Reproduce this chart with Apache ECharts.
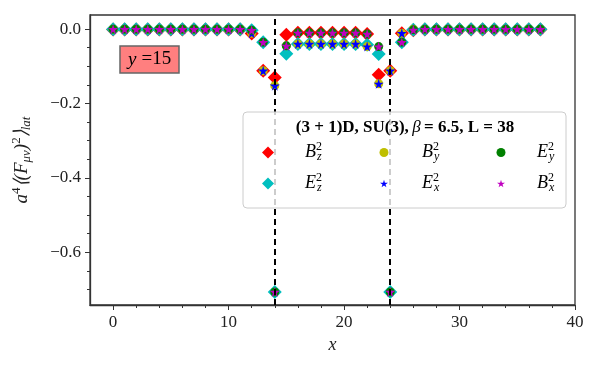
<!DOCTYPE html>
<html>
<head>
<meta charset="utf-8">
<script src="https://cdn.jsdelivr.net/npm/echarts@6/dist/echarts.min.js"></script>
<style>
html, body { margin: 0; padding: 0; background: #fff; }
#chart { width: 600px; height: 370px; }
</style>
</head>
<body>
<div id="chart"></div>
<script>
// lattice sites along x
var xs = [0,1,2,3,4,5,6,7,8,9,10,11,12,13,14,15,16,17,18,19,20,21,22,23,24,25,26,27,28,29,30,31,32,33,34,35,36,37];

// field components
var Bz = [-0.001,-0.001,-0.001,-0.001,-0.001,-0.001,-0.001,-0.001,-0.001,-0.001,-0.001,-0.001,
          -0.012,-0.112,-0.130,-0.015,-0.010,-0.010,-0.010,-0.010,-0.010,-0.010,-0.013,-0.123,-0.112,-0.011,
          -0.003,-0.001,-0.001,-0.001,-0.001,-0.001,-0.001,-0.001,-0.001,-0.001,-0.001,-0.001];
var Ez = [0,0,0,0,0,0,0,0,0,0,0,0,
          -0.003,-0.035,-0.707,-0.066,-0.040,-0.040,-0.040,-0.040,-0.040,-0.040,-0.042,-0.067,-0.707,-0.035,
          -0.002,0,0,0,0,0,0,0,0,0,0,0];
var By = [0,0,0,0,0,0,0,0,0,0,0,0,
          -0.011,-0.112,-0.152,-0.045,-0.040,-0.040,-0.040,-0.040,-0.040,-0.040,-0.047,-0.147,-0.112,-0.011,
          0,0,0,0,0,0,0,0,0,0,0,0];
var Ex = [0,0,0,0,0,0,0,0,0,0,0,0,
          -0.011,-0.112,-0.152,-0.045,-0.040,-0.040,-0.040,-0.040,-0.040,-0.040,-0.047,-0.147,-0.112,-0.011,
          0,0,0,0,0,0,0,0,0,0,0,0];
var Ey = [0,0,0,0,0,0,0,0,0,0,0,0,
          -0.003,-0.035,-0.707,-0.045,-0.010,-0.010,-0.010,-0.010,-0.010,-0.010,-0.013,-0.047,-0.707,-0.035,
          -0.002,0,0,0,0,0,0,0,0,0,0,0];
var Bx = [0,0,0,0,0,0,0,0,0,0,0,0,
          -0.003,-0.035,-0.707,-0.045,-0.010,-0.010,-0.010,-0.010,-0.010,-0.010,-0.013,-0.047,-0.707,-0.035,
          -0.002,0,0,0,0,0,0,0,0,0,0,0];

// source positions (dashed lines)
var sources = [14, 24];

// ticks
var xMajor = [0, 10, 20, 30, 40];
var xMinor = [2, 4, 6, 8, 12, 14, 16, 18, 22, 24, 26, 28, 32, 34, 36, 38];
var yMajor = [0, -0.2, -0.4, -0.6];
var yMinor = [-0.05, -0.1, -0.15, -0.25, -0.3, -0.35, -0.45, -0.5, -0.55, -0.65, -0.7];

var FONT = 'Liberation Serif';
var STAR = 'path://M50,0L61,35L98,35L68,57L79,91L50,70L21,91L32,57L2,35L39,35Z';

function pts(arr) {
    return xs.map(function (x, i) { return [x, arr[i]]; });
}

var scriptRich = {
    v: { fontFamily: FONT, fontStyle: 'italic', fontSize: 18, color: '#000' },
    sp: { fontFamily: FONT, fontSize: 12, color: '#000', padding: [0, 0, 11, 0], width: 1 },
    sb: { fontFamily: FONT, fontStyle: 'italic', fontSize: 12, color: '#000', padding: [9, 0, 0, 0] }
};

function legendLabel(name) {
    return '{v|' + name[0] + '}{sp|2}{sb|' + name[1] + '}';
}

var legendItems = [
    { name: 'Bz', cx: 268, cy: 155, size: 12, lx: 305 },
    { name: 'By', cx: 384, cy: 155, size: 9, lx: 422 },
    { name: 'Ey', cx: 501, cy: 155, size: 9, lx: 537 },
    { name: 'Ez', cx: 268, cy: 186, size: 12, lx: 305 },
    { name: 'Ex', cx: 384, cy: 186, size: 8, lx: 422 },
    { name: 'Bx', cx: 501, cy: 186, size: 8, lx: 537 }
];

var legends = legendItems.map(function (it) {
    var left = it.cx - it.size / 2;
    return {
        data: [it.name],
        left: left,
        top: it.cy - 14,
        padding: 0,
        itemWidth: it.size,
        itemHeight: it.size,
        selectedMode: false,
        formatter: legendLabel,
        textStyle: {
            padding: [0, 0, 0, it.lx - left - it.size - 5],
            rich: scriptRich
        },
        z: 8
    };
});

function scatter(name, arr, symbol, size, color) {
    return {
        name: name,
        type: 'scatter',
        data: pts(arr),
        symbol: symbol,
        symbolSize: size,
        itemStyle: { color: color, opacity: 1 },
        emphasis: { disabled: true },
        z: 3
    };
}

var chart = echarts.init(document.getElementById('chart'), null, { renderer: 'canvas' });

chart.setOption({
    animation: false,
    grid: {
        left: 90, right: 25, top: 15, bottom: 65,
        show: true, borderColor: '#333', borderWidth: 1.3, backgroundColor: 'transparent'
    },
    title: {
        text: '{i|y} {n|=15}',
        left: 120, top: 46,
        padding: [4, 8, 4, 8],
        backgroundColor: '#ff7f7f',
        borderColor: '#666', borderWidth: 1.5,
        textStyle: {
            rich: {
                i: { fontFamily: FONT, fontStyle: 'italic', fontWeight: 'normal', fontSize: 19, color: '#000' },
                n: { fontFamily: FONT, fontWeight: 'normal', fontSize: 19, color: '#000' }
            }
        },
        z: 9
    },
    legend: legends,
    xAxis: [{
        type: 'value', min: -2, max: 40, position: 'bottom',
        axisLine: { show: true, onZero: false, lineStyle: { color: '#333', width: 1.3 } },
        axisTick: { show: true, length: 5, customValues: xMajor, lineStyle: { color: '#333', width: 1 } },
        axisLabel: { customValues: xMajor, margin: 9, fontFamily: FONT, fontSize: 17, color: '#222' },
        splitLine: { show: false },
        name: 'x', nameLocation: 'middle', nameGap: 30,
        nameTextStyle: { fontFamily: FONT, fontStyle: 'italic', fontSize: 18, color: '#222' }
    }, {
        type: 'value', min: -2, max: 40, position: 'bottom',
        axisLine: { show: false, onZero: false },
        axisTick: { show: true, length: 3, customValues: xMinor, lineStyle: { color: '#333', width: 1 } },
        axisLabel: { show: false },
        splitLine: { show: false }
    }],
    yAxis: [{
        type: 'value', min: -0.742, max: 0.038, position: 'left',
        axisLine: { show: true, onZero: false, lineStyle: { color: '#333', width: 1.3 } },
        axisTick: { show: true, length: 5, customValues: yMajor, lineStyle: { color: '#333', width: 1 } },
        axisLabel: {
            customValues: yMajor, margin: 9, fontFamily: FONT, fontSize: 17, color: '#222',
            formatter: function (v) { return v === 0 ? '0.0' : '\u2212' + Math.abs(v).toFixed(1); }
        },
        splitLine: { show: false },
        name: '{n|a}{sp|4}{n|\u27E8(}{n|F}{sb|\u03BC\u03BD}{n|)}{sp|2}{n|\u27E9}{sb|lat}',
        nameLocation: 'middle', nameGap: 56, nameRotate: 90,
        nameTextStyle: {
            rich: {
                n: { fontFamily: FONT, fontStyle: 'italic', fontSize: 19, color: '#222' },
                sp: { fontFamily: FONT, fontSize: 13, color: '#222', padding: [0, 0, 11, 0] },
                sb: { fontFamily: FONT, fontStyle: 'italic', fontSize: 13, color: '#222', padding: [9, 0, 0, 0] }
            }
        }
    }, {
        type: 'value', min: -0.742, max: 0.038, position: 'left',
        axisLine: { show: false, onZero: false },
        axisTick: { show: true, length: 3, customValues: yMinor, lineStyle: { color: '#333', width: 1 } },
        axisLabel: { show: false },
        splitLine: { show: false }
    }],
    graphic: [{
        type: 'rect', z: 6,
        shape: { x: 243, y: 112, width: 323, height: 96, r: 4 },
        style: { fill: 'rgba(255,255,255,0.8)', stroke: '#cccccc', lineWidth: 1 }
    }, {
        type: 'text', z: 7, x: 405, y: 128,
        style: {
            text: '{b|(3 + 1)D, SU(3),} {g|\u03B2} {b|= 6.5, L = 38}',
            align: 'center', verticalAlign: 'middle',
            rich: {
                b: { fontFamily: FONT, fontWeight: 'bold', fontSize: 17, fill: '#000' },
                g: { fontFamily: FONT, fontStyle: 'italic', fontSize: 17, fill: '#000' }
            }
        }
    }],
    series: [
        scatter('Bz', Bz, 'diamond', 14, '#ff0000'),
        scatter('Ez', Ez, 'diamond', 14, '#00bfbf'),
        scatter('By', By, 'circle', 9, '#bfbf00'),
        scatter('Ex', Ex, STAR, 10, '#0000ff'),
        scatter('Ey', Ey, 'circle', 9, '#008000'),
        scatter('Bx', Bx, STAR, 10, '#bf00bf'),
        {
            name: 'sources',
            type: 'scatter',
            data: [],
            z: 5,
            markLine: {
                silent: true,
                symbol: ['none', 'none'],
                label: { show: false },
                lineStyle: { color: '#000', type: [6, 4], width: 2 },
                data: sources.map(function (s) { return { xAxis: s }; })
            }
        }
    ]
});
</script>
</body>
</html>
